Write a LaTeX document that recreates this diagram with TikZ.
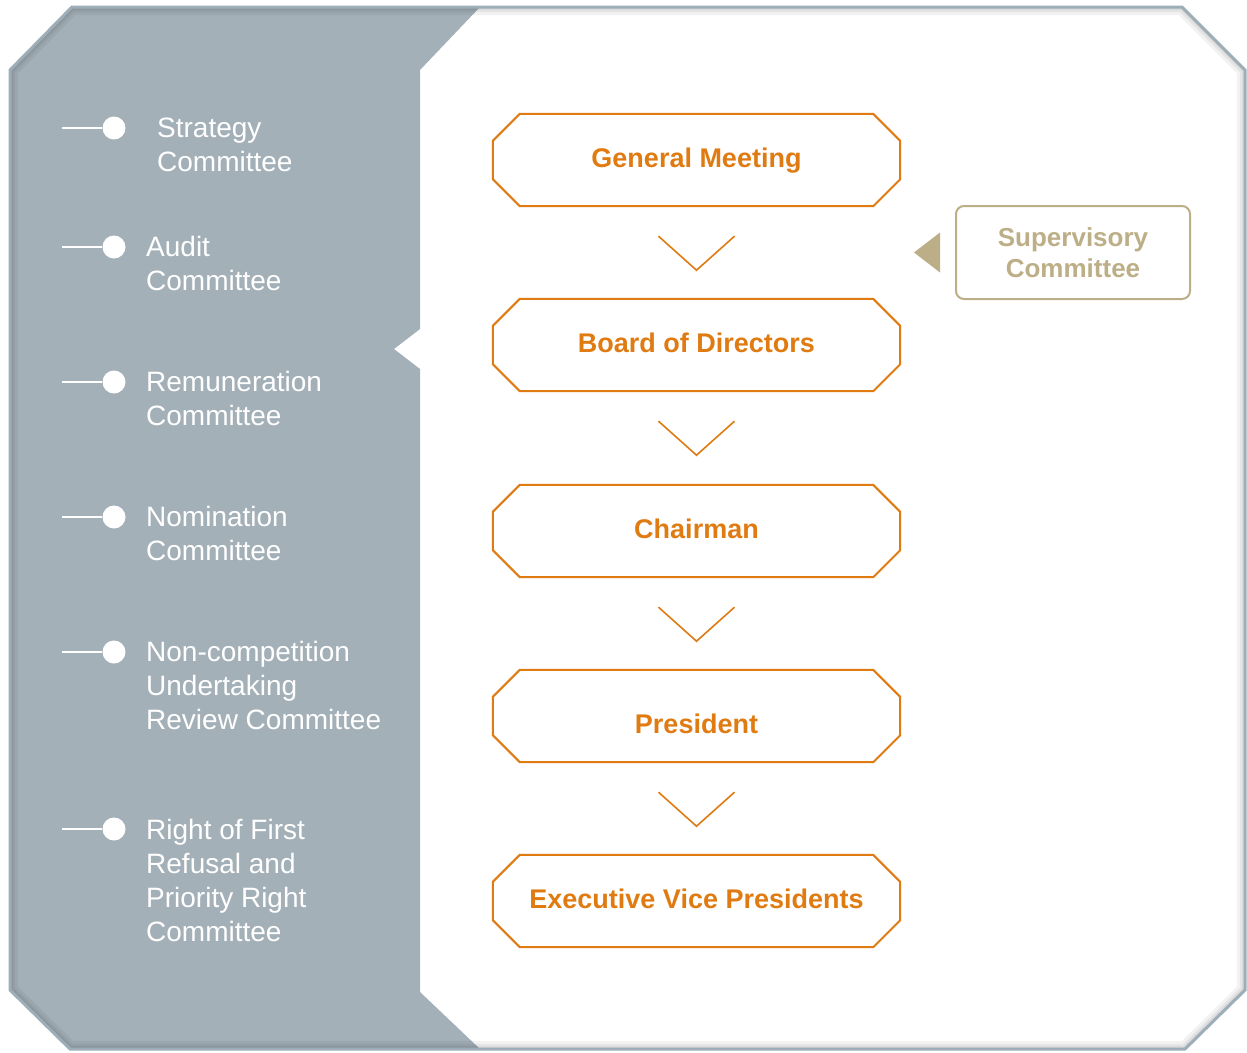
\documentclass[tikz,border=0pt]{standalone}
\usepackage{fontspec}
\setmainfont{Liberation Sans}
\usepackage{tikz}
\usetikzlibrary{calc}
\definecolor{panel}{HTML}{A4B0B8}
\definecolor{frame}{HTML}{9DAEB9}
\definecolor{orange}{HTML}{E07B12}
\definecolor{tan}{HTML}{BCAE86}
\tikzset{
  frameline/.style={draw=frame, line width=3pt},
  inshade/.style={draw=black, line width=#1, opacity=0.05},
  stem/.style={draw=white, line width=2.6pt},
  dot/.style={circle, fill=white, inner sep=0pt, minimum size=23pt},
  cmt/.style={text=white, font=\fontsize{28}{34}\selectfont, align=left, inner sep=0pt, anchor=north west},
  unit/.style={minimum width=407pt, minimum height=92pt, inner sep=0pt, text=orange,
    font=\fontsize{27}{32}\selectfont\bfseries, text height=20pt, text depth=6pt},
  unitline/.style={draw=orange, line width=2pt},
  chev/.style={draw=orange, line width=1.6pt},
  sup/.style={draw=tan, line width=2pt, rounded corners=8pt, minimum width=234pt, minimum height=93pt,
    text=tan, font=\fontsize{26}{31}\selectfont\bfseries, align=center, inner sep=0pt}
}
\newcommand\cutframe[1]{%
  \draw[unitline] ($(#1.north west)+(27pt,0pt)$) -- ($(#1.north east)+(-27pt,0pt)$)
    -- ($(#1.north east)+(0pt,-27pt)$) -- ($(#1.south east)+(0pt,27pt)$)
    -- ($(#1.south east)+(-27pt,0pt)$) -- ($(#1.south west)+(27pt,0pt)$)
    -- ($(#1.south west)+(0pt,27pt)$) -- ($(#1.north west)+(0pt,-27pt)$) -- cycle;}
\newcommand\chevron[1]{%
  \draw[chev] ($(#1.south)+(-38pt,-30pt)$) -- ($(#1.south)+(0pt,-64pt)$) -- ($(#1.south)+(38pt,-30pt)$);}

\begin{document}
\begin{tikzpicture}[x=1pt, y=-1pt]
  \useasboundingbox (0,0) rectangle (1247,1052);

  % outer frame corners
  \coordinate (f1) at (72,7);
  \coordinate (f2) at (1182,7);
  \coordinate (f3) at (1245,70);
  \coordinate (f4) at (1245,990);
  \coordinate (f5) at (1185,1049);
  \coordinate (f6) at (70,1049);
  \coordinate (f7) at (10,990);
  \coordinate (f8) at (10,70);

  \fill[white] (f1) -- (f2) -- (f3) -- (f4) -- (f5) -- (f6) -- (f7) -- (f8) -- cycle;
  \fill[panel] (f1) -- (480,7) -- (420,70) -- (420,329) -- (394,349) -- (420,369)
    -- (420,992) -- (480,1049) -- (f6) -- (f7) -- (f8) -- cycle;

  \begin{scope}
    \clip (f1) -- (f2) -- (f3) -- (f4) -- (f5) -- (f6) -- (f7) -- (f8) -- cycle;
    \draw[inshade=16pt] (f1) -- (f2) -- (f3) -- (f4) -- (f5) -- (f6) -- (f7) -- (f8) -- cycle;
    \draw[inshade=10pt] (f1) -- (f2) -- (f3) -- (f4) -- (f5) -- (f6) -- (f7) -- (f8) -- cycle;
    \draw[inshade=6pt] (f1) -- (f2) -- (f3) -- (f4) -- (f5) -- (f6) -- (f7) -- (f8) -- cycle;
  \end{scope}
  \draw[frameline] (f1) -- (f2) -- (f3) -- (f4) -- (f5) -- (f6) -- (f7) -- (f8) -- cycle;

  % committees
  \coordinate (s1) at (62,128); \node[dot] (b1) at (114,128) {};
  \coordinate (s2) at (62,247); \node[dot] (b2) at (114,247) {};
  \coordinate (s3) at (62,382); \node[dot] (b3) at (114,382) {};
  \coordinate (s4) at (62,517); \node[dot] (b4) at (114,517) {};
  \coordinate (s5) at (62,652); \node[dot] (b5) at (114,652) {};
  \coordinate (s6) at (62,829); \node[dot] (b6) at (114,829) {};
  \draw[stem] (s1) -- (b1);
  \draw[stem] (s2) -- (b2);
  \draw[stem] (s3) -- (b3);
  \draw[stem] (s4) -- (b4);
  \draw[stem] (s5) -- (b5);
  \draw[stem] (s6) -- (b6);

  \node[cmt] (c1) at (157,117.5) {Strategy\\Committee};
  \node[cmt] (c2) at (146,236.5) {Audit\\Committee};
  \node[cmt] (c3) at (146,371.5) {Remuneration\\Committee};
  \node[cmt] (c4) at (146,506.5) {Nomination\\Committee};
  \node[cmt] (c5) at (146,641.5) {Non-competition\\Undertaking\\Review Committee};
  \node[cmt] (c6) at (146,818.5) {Right of First\\Refusal and\\Priority Right\\Committee};

  % chain of command
  \node[unit] (gm) at (696.5,160) {General Meeting};
  \node[unit] (bd) at (696.5,345) {Board of Directors};
  \node[unit] (ch) at (696.5,531) {Chairman};
  \node[unit, text height=40pt] (pr) at (696.5,716) {President};
  \node[unit] (ev) at (696.5,901) {Executive Vice Presidents};
  \cutframe{gm} \cutframe{bd} \cutframe{ch} \cutframe{pr} \cutframe{ev}
  \chevron{gm} \chevron{bd} \chevron{ch} \chevron{pr}

  \node[sup] (sv) at (1073,252.5) {Supervisory\\Committee};
  \fill[tan] ($(sv.west)+(-41pt,0pt)$) -- ($(sv.west)+(-15pt,20pt)$) -- ($(sv.west)+(-15pt,-20pt)$) -- cycle;
\end{tikzpicture}
\end{document}
